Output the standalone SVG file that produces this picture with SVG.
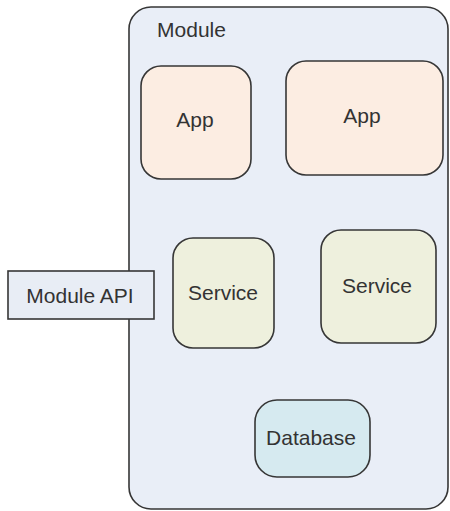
<svg xmlns="http://www.w3.org/2000/svg" width="450" height="511" viewBox="0 0 450 511">
<style>
.box{stroke:#363636;stroke-width:1.6}
.lbl{font-family:"Liberation Sans",Arial,sans-serif;font-size:21px;fill:#333;text-anchor:middle}
</style>
<rect width="450" height="511" fill="#ffffff"/>
<g id="module">
<rect class="box" x="129" y="7" width="319" height="502" rx="22" fill="#e9eef7"/>
<text class="lbl" x="191.5" y="37">Module</text>
</g>
<g id="app1">
<rect class="box" x="141" y="66" width="110" height="113" rx="20" fill="#fcede2"/>
<text class="lbl" x="195" y="127">App</text>
</g>
<g id="app2">
<rect class="box" x="286" y="61" width="157" height="114" rx="20" fill="#fcede2"/>
<text class="lbl" x="362" y="123">App</text>
</g>
<g id="module-api">
<rect class="box" x="8" y="271" width="146" height="48" fill="#e8edf5"/>
<text class="lbl" x="80" y="303">Module API</text>
</g>
<g id="service1">
<rect class="box" x="173" y="238" width="101" height="110" rx="20" fill="#eef0dd"/>
<text class="lbl" x="223" y="300">Service</text>
</g>
<g id="service2">
<rect class="box" x="321" y="230" width="115" height="113" rx="20" fill="#eef0dd"/>
<text class="lbl" x="377" y="293">Service</text>
</g>
<g id="database">
<rect class="box" x="255" y="400" width="115" height="77" rx="22" fill="#d6eaf0"/>
<text class="lbl" x="311" y="445">Database</text>
</g>
<g id="connectors"></g>
</svg>
